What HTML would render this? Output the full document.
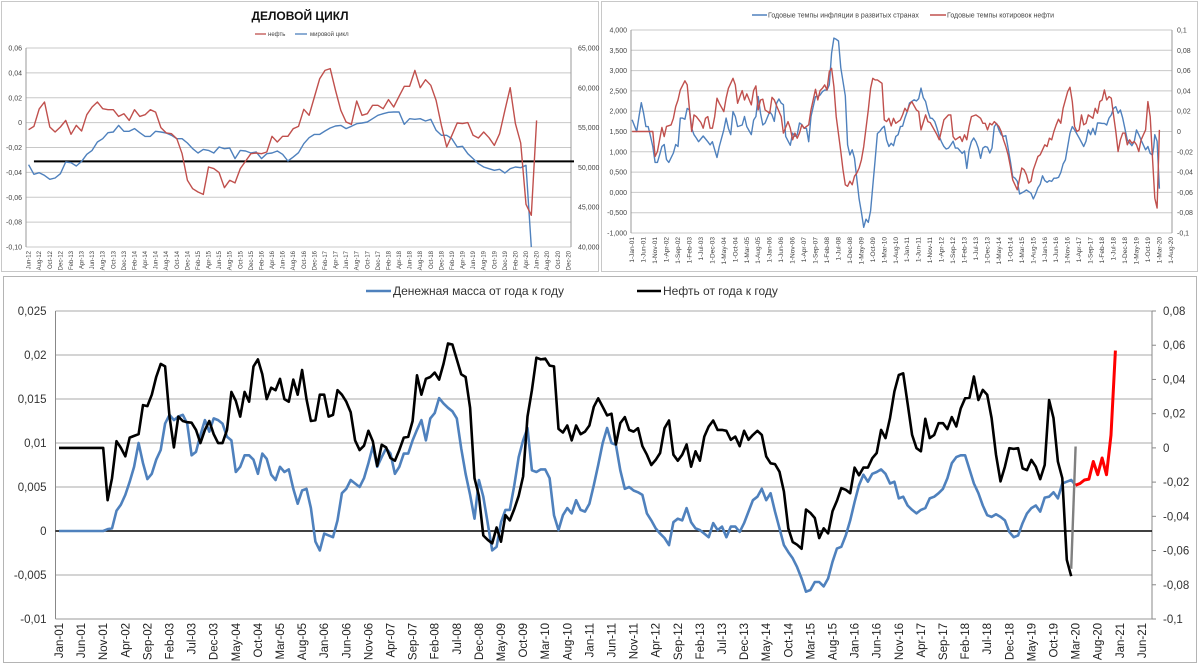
<!DOCTYPE html>
<html><head><meta charset="utf-8">
<style>
html,body{margin:0;padding:0;background:#fff;}
svg{display:block;font-family:"Liberation Sans","Noto Sans CJK SC",sans-serif;}
</style></head>
<body>
<svg id="root" width="1200" height="667" viewBox="0 0 1200 667" xmlns="http://www.w3.org/2000/svg">
<rect x="0" y="0" width="1200" height="667" fill="#fff"/>
<rect x="1.5" y="1.5" width="597" height="270" fill="none" stroke="#c8c8c8"/>
<rect x="601.5" y="1.5" width="596" height="270" fill="none" stroke="#c8c8c8"/>
<rect x="3.5" y="276.5" width="1193" height="386" fill="none" stroke="#b4b4b4"/>
<text x="300" y="20" text-anchor="middle" font-size="12" font-weight="bold" fill="#111">ДЕЛОВОЙ ЦИКЛ</text>
<g>
<line x1="255" y1="34" x2="266" y2="34" stroke="#c0504d" stroke-width="1.3"/>
<text x="268" y="36" font-size="6" fill="#444">нефть</text>
<line x1="295" y1="34" x2="307" y2="34" stroke="#4f81bd" stroke-width="1.3"/>
<text x="310" y="36" font-size="6" fill="#444">мировой цикл</text>
</g>
<g>
<line x1="752" y1="15" x2="767" y2="15" stroke="#4f81bd" stroke-width="1.5"/>
<text x="768" y="17.5" font-size="7" fill="#444">Годовые темпы инфляции в развитых странах</text>
<line x1="930" y1="15" x2="946" y2="15" stroke="#c0504d" stroke-width="1.5"/>
<text x="947" y="17.5" font-size="7" fill="#444">Годовые темпы котировок нефти</text>
</g>
<g>
<line x1="366" y1="291" x2="391" y2="291" stroke="#4f81bd" stroke-width="2.5"/>
<text x="393" y="295" font-size="12" fill="#333">Денежная  масса от года к году</text>
<line x1="637" y1="291" x2="661" y2="291" stroke="#000" stroke-width="2.5"/>
<text x="663" y="295" font-size="12" fill="#333">Нефть  от года к году</text>
</g>
<g id="c1"></g><g id="c2"></g><g id="c3"></g>
</svg>
<script>
// ---------- Chart 1 data ----------
const c1Oil = [-0.0057,-0.003,0.011,0.0166,-0.0035,-0.0075,-0.0035,0.0018,-0.0094,-0.0022,-0.0067,0.0064,0.0126,0.0166,0.0112,0.0104,0.0104,0.005,0.0072,0.0018,0.0104,0.005,0.0064,0.0104,0.0085,-0.004,-0.0083,-0.0089,-0.0129,-0.025,-0.0464,-0.0531,-0.0558,-0.0577,-0.0357,-0.037,-0.0402,-0.0523,-0.0464,-0.0485,-0.037,-0.0309,-0.025,-0.0244,-0.025,-0.0236,-0.011,-0.0156,-0.011,-0.011,-0.0049,-0.003,0.0107,0.0059,0.0206,0.0353,0.042,0.0434,0.026,0.0099,0.0005,-0.0014,0.0174,0.0059,0.0072,0.0139,0.0139,0.0112,0.0185,0.0126,0.0211,0.0292,0.0292,0.042,0.0281,0.0345,0.03,0.0179,-0.0022,-0.0196,-0.0102,-0.0003,-0.0008,0.0,-0.0102,-0.0124,-0.0075,-0.0121,-0.0183,-0.0089,0.0099,0.0281,-0.0008,-0.0164,-0.0657,-0.0745,0.0018];
const c1World = [50340,49130,49340,49000,48500,48670,49210,50680,50590,50170,50760,51640,52140,53190,53610,54360,54450,55280,54530,54530,54870,54360,53900,53900,54530,54450,54320,54030,53610,53610,53060,52350,51810,52260,52140,51810,52560,52350,52440,51100,52140,52060,51810,51930,51100,51720,51810,52060,51640,50800,51300,51850,52980,53730,54150,54150,54570,54950,55200,55280,54870,55160,55490,55580,55700,56120,56540,56750,56920,56960,56960,55410,56120,56040,56120,55830,56040,54660,54030,54030,53610,52560,52650,51720,51100,50470,50050,49840,49630,49760,49300,49840,50050,49960,50260,40000];
const c1Threshold = 50760;
const c1LeftTicks = [0.06,0.04,0.02,0,-0.02,-0.04,-0.06,-0.08,-0.1];
const c1RightTicks = [65000,60000,55000,50000,45000,40000];
const MON = ["Jan","Feb","Mar","Apr","May","Jun","Jul","Aug","Sep","Oct","Nov","Dec"];

// ---------- Chart 2 data ----------
const c2Inflation = [[0,1.79],[2,1.50],[3,1.87],[4,2.21],[5,1.95],[6,1.62],[7,1.62],[8,1.38],[9,1.13],[10,0.74],[11,0.74],[12,0.93],[13,1.13],[14,1.18],[15,0.81],[16,0.74],[18,0.97],[19,1.18],[20,1.13],[21,1.83],[22,1.83],[23,1.80],[24,2.07],[25,2.03],[26,1.58],[27,1.42],[28,1.34],[29,1.25],[31,1.39],[33,1.25],[34,1.17],[35,1.25],[36,1.05],[37,0.86],[38,1.13],[40,1.54],[41,1.83],[42,1.58],[43,1.42],[44,1.99],[45,1.87],[46,1.62],[48,1.66],[49,1.87],[50,1.62],[52,1.42],[53,1.78],[54,1.87],[55,2.36],[56,1.95],[57,1.66],[58,1.71],[60,1.99],[61,1.91],[62,1.75],[63,2.20],[64,2.30],[65,2.20],[66,2.16],[67,1.38],[69,1.16],[70,1.46],[71,1.38],[72,1.42],[73,1.71],[74,1.67],[75,1.58],[76,1.58],[77,1.25],[78,1.87],[80,2.36],[81,2.36],[82,2.40],[83,2.48],[84,2.52],[85,2.52],[86,2.65],[87,3.43],[88,3.80],[89,3.77],[90,3.73],[91,3.07],[93,2.38],[94,1.17],[95,0.92],[96,1.05],[97,0.84],[98,0.34],[99,-0.16],[100,-0.49],[101,-0.86],[102,-0.66],[103,-0.74],[104,-0.45],[105,0.16],[106,0.79],[107,1.45],[108,1.50],[109,1.58],[110,1.63],[111,1.29],[112,1.13],[113,1.21],[114,1.15],[115,1.38],[116,1.42],[117,1.62],[118,1.63],[119,1.83],[120,1.99],[121,2.20],[123,2.28],[124,2.25],[125,2.31],[126,2.57],[127,2.33],[128,2.24],[129,2.00],[130,1.83],[131,1.82],[132,1.75],[133,1.58],[134,1.38],[135,1.24],[136,1.13],[137,1.07],[138,1.09],[139,1.17],[140,1.26],[141,1.09],[142,1.09],[144,0.96],[145,1.02],[146,0.59],[147,1.04],[148,1.25],[149,1.34],[150,1.25],[151,1.09],[152,0.84],[153,1.09],[154,1.13],[155,1.11],[156,0.97],[157,1.09],[158,1.62],[159,1.70],[160,1.54],[161,1.42],[162,1.38],[163,1.40],[164,1.09],[165,0.76],[166,0.39],[167,0.35],[168,0.27],[169,-0.04],[171,0.02],[172,0.06],[173,0.02],[174,-0.02],[175,-0.16],[176,-0.04],[177,0.11],[178,0.20],[179,0.41],[180,0.29],[181,0.25],[182,0.29],[183,0.27],[184,0.35],[185,0.35],[186,0.37],[187,0.49],[188,0.70],[189,0.80],[190,1.13],[191,1.46],[192,1.62],[193,1.54],[195,1.34],[197,1.13],[198,1.26],[199,1.54],[200,1.42],[201,1.58],[202,1.42],[203,1.71],[204,1.71],[205,1.70],[206,1.70],[207,1.66],[208,1.83],[209,1.91],[210,2.07],[211,2.11],[212,1.95],[213,2.03],[214,1.83],[216,1.29],[218,1.15],[219,1.25],[220,1.54],[221,1.42],[222,1.29],[223,1.17],[224,1.05],[225,1.13],[226,0.96],[227,0.92],[227.5,1.11],[228,1.42],[229,1.26],[229.5,0.70],[230,0.09]];
const c2Oil = [[0,0],[9,0],[10,-0.0246],[11,-0.0197],[13,0.0039],[14,-0.005],[15,0.005],[17,0.0065],[18,0.013],[19,0.0245],[20,0.031],[21,0.041],[23,0.050],[24,0.046],[25,0.0213],[26,0.0],[27,0.0164],[28,0.0147],[30,0.0088],[31,0.0033],[32,0.013],[33,0.0147],[34,0.0033],[35,0.0033],[36,0.0147],[37,0.0328],[38,0.0278],[40,0.0196],[41,0.0328],[42,0.0426],[44,0.0524],[45,0.0459],[46,0.0278],[47,0.0344],[48,0.0403],[49,0.031],[50,0.037],[52,0.0262],[53,0.0403],[54,0.0449],[55,0.0213],[56,0.031],[57,0.0318],[58,0.0213],[60,0.018],[61,0.0337],[62,0.031],[63,0.0252],[65,0.0147],[66,-0.0016],[68,0.0098],[69,0.0033],[70,-0.0082],[71,-0.0016],[72,-0.0066],[73,-0.0016],[74,0.0066],[75,0.0033],[77,0.0066],[78,0.0213],[80,0.0416],[81,0.031],[82,0.0403],[83,0.0426],[84,0.0459],[85,0.041],[86,0.059],[87,0.0623],[88,0.0442],[89,0.0147],[91,-0.0197],[92,-0.0377],[93,-0.0525],[94,-0.054],[95,-0.049],[96,-0.0525],[97,-0.044],[98,-0.041],[99,-0.036],[100,-0.028],[101,-0.015],[103,0.0213],[104,0.0426],[105,0.0524],[106,0.0508],[107,0.0508],[109,0.0475],[110,0.0114],[111,0.0098],[112,0.013],[113,0.0055],[114,0.013],[115,0.0081],[117,0.0114],[118,0.0164],[119,0.0229],[120,0.0196],[121,0.0262],[122,0.0295],[124,0.0213],[125,0.0196],[126,0.0016],[128,0.0164],[129,0.0098],[130,0.0088],[131,0.0049],[133,-0.0033],[134,-0.0082],[135,0.0016],[136,0.0114],[138,0.0164],[139,0.0164],[140,-0.005],[141,-0.0082],[143,-0.005],[144,-0.0099],[145,-0.0033],[146,-0.0082],[147,0.0049],[148,0.0147],[150,0.0164],[151,0.0147],[152,0.013],[153,0.0081],[154,0.0081],[155,0.0016],[156,0.0081],[157,0.0065],[158,0.0098],[160,0.0049],[161,0],[162,-0.0082],[163,-0.0148],[164,-0.023],[165,-0.0345],[166,-0.0476],[167,-0.0525],[168,-0.0574],[170,-0.036],[171,-0.0377],[172,-0.0426],[173,-0.0508],[174,-0.049],[175,-0.0377],[176,-0.0312],[177,-0.0246],[178,-0.023],[180,-0.0131],[181,-0.0148],[182,-0.0066],[183,-0.0082],[184,0],[185,0.0066],[186,0.0121],[187,0.0081],[188,0.0229],[190,0.0393],[191,0.0436],[192,0.0295],[193,0.0049],[194,0],[195,0.0016],[196,0.0164],[197,0.0066],[198,0.0081],[199,0.0164],[200,0.0147],[201,0.013],[202,0.0229],[203,0.018],[204,0.0295],[205,0.031],[206,0.041],[207,0.031],[208,0.0344],[209,0.0328],[210,0.0164],[211,0],[212,-0.0197],[213,-0.0082],[214,-0.0016],[215,-0.0016],[216,-0.0131],[217,-0.0082],[218,-0.0115],[219,-0.0099],[220,-0.0131],[221,-0.0197],[222,-0.0082],[224,0.0016],[225,0.0295],[226,0.0147],[227,-0.0263],[228,-0.0656],[229,-0.0755],[230,0.0016]];
const c2LeftTicks = [4,3.5,3,2.5,2,1.5,1,0.5,0,-0.5,-1];
const c2RightTicks = [0.1,0.08,0.06,0.04,0.02,0,-0.02,-0.04,-0.06,-0.08,-0.1];

// ---------- Chart 3 data ----------
const c3Money = [0,0,0,0,0,0,0,0,0,0,0,
0.0002,0.0003,0.0023,0.003,0.0041,0.0056,0.0073,0.010,0.0077,0.0059,
0.0065,0.0081,0.0092,0.0122,0.0132,0.0126,0.013,0.0132,0.0122,0.0086,
0.009,0.0109,0.0126,0.0113,0.0128,0.0126,0.0122,0.0107,0.0103,0.0067,
0.0073,0.0086,0.0086,0.0081,0.0065,0.0088,0.0082,0.0064,0.0058,0.0073,
0.0067,0.007,0.0048,0.0031,0.0046,0.0048,0.0026,-0.0012,-0.0022,-0.0003,
-0.0005,-0.0007,0.0012,0.0043,0.0048,0.0058,0.0054,0.005,0.006,0.0077,
0.0096,0.0073,0.0084,0.0094,0.0088,0.0065,0.0073,0.0088,0.0088,0.0103,
0.0115,0.0126,0.0103,0.0128,0.0134,0.0151,0.0145,0.014,0.0136,0.0128,
0.0094,0.0065,0.0041,0.0014,0.0058,0.0039,0.0009,-0.0022,-0.0018,0.001,
0.0024,0.0024,0.0052,0.0084,0.0103,0.0117,0.0069,0.0067,0.007,0.007,
0.006,0.0018,0.0001,0.0018,0.0026,0.002,0.0035,0.0024,0.0022,0.0031,
0.0052,0.0075,0.01,0.0117,0.010,0.0098,0.0069,0.0048,0.005,0.0046,
0.0044,0.0041,0.002,0.0012,0.0003,-0.0003,-0.0008,-0.0016,0.001,0.0014,
0.0012,0.0026,0.001,0.0003,0.0001,-0.0003,-0.0007,0.0009,0.0001,0.0005,
-0.0007,0.0005,0.0005,-0.0001,0.0009,0.0022,0.0035,0.0039,0.0048,0.0035,
0.0043,0.0022,0.0003,-0.0016,-0.0024,-0.0031,-0.0041,-0.0054,-0.0069,-0.0067,
-0.0058,-0.0058,-0.0063,-0.0054,-0.0035,-0.002,-0.0018,-0.0005,0.0012,0.0033,
0.0052,0.0064,0.0056,0.0065,0.0067,0.007,0.0065,0.0054,0.0056,0.0037,
0.0039,0.0029,0.0024,0.002,0.0024,0.0026,0.0037,0.0039,0.0043,0.0048,
0.006,0.0077,0.0084,0.0086,0.0086,0.007,0.0054,0.0043,0.0029,0.0018,
0.0016,0.0019,0.0016,0.0012,-0.0001,-0.0007,-0.0005,0.0009,0.002,0.0026,
0.0029,0.0022,0.0038,0.0039,0.0044,0.0037,0.0054,0.0056,0.0058,0.0052];
const c3Oil = [0,0,0,0,0,0,0,0,0,0,0,
-0.0306,-0.0177,0.0039,0.0,-0.0049,0.006,0.007,0.008,0.025,0.0244,
0.0311,0.0414,0.0491,0.0476,0.0183,0.0003,0.0183,0.0157,0.015,0.0147,
0.0105,0.0028,0.0105,0.0157,0.008,0.0028,0.0028,0.0105,0.0327,0.0275,
0.0183,0.0327,0.027,0.0476,0.0517,0.043,0.0285,0.0352,0.0337,0.0404,
0.0285,0.027,0.0399,0.0311,0.0455,0.0285,0.0157,0.0162,0.0311,0.0311,
0.0183,0.0193,0.0337,0.0311,0.027,0.0208,0.0044,-0.0013,0.0013,0.01,
0.0039,-0.0105,0.0018,0.0003,-0.0059,-0.0075,-0.0013,0.006,0.0064,0.0157,
0.0424,0.0311,0.0404,0.0414,0.044,0.0399,0.0491,0.061,0.0604,0.0517,
0.043,0.0414,0.0234,-0.0177,-0.028,-0.0512,-0.0537,-0.0558,-0.0465,-0.0548,
-0.0393,-0.0424,-0.0357,-0.028,-0.0167,0.0183,0.0337,0.0527,0.0517,0.0522,
0.0481,0.0476,0.0111,0.009,0.0131,0.0044,0.0131,0.008,0.0095,0.0131,
0.024,0.029,
0.024,0.019,0.020,0.002,0.0145,0.018,0.0105,0.0095,0.0115,0.001,
-0.004,-0.010,-0.007,-0.003,0.0115,0.016,-0.004,-0.0075,-0.004,0.002,
-0.011,-0.002,-0.0075,0.0066,0.0125,0.016,0.0105,0.0105,0.010,0.0047,
0.0066,0.001,0.010,0.0047,0.0076,0.010,0.0076,-0.005,-0.009,-0.0095,
-0.014,-0.0255,-0.047,-0.055,-0.0566,-0.059,-0.036,-0.038,-0.041,-0.0527,
-0.047,-0.050,-0.037,-0.031,-0.0235,-0.0245,-0.0265,-0.0115,-0.016,-0.0115,
-0.0115,-0.006,-0.003,0.0105,0.0057,0.0174,0.033,0.0426,0.0436,0.026,
0.0076,-0.0002,-0.002,0.017,0.0057,0.0076,0.0144,0.0144,0.011,0.018,
0.0125,0.023,0.029,0.0294,0.0417,0.028,0.0339,0.031,0.0174,-0.004,
-0.0196,-0.011,-0.0002,-0.0006,-0.0002,-0.012,-0.013,-0.007,-0.011,-0.0183,
-0.010,0.028,0.0174,-0.008,-0.0177,-0.0654,-0.075];
const c3ForecastStart = 230;
const c3Forecast = [0.0052,0.0054,0.0058,0.0059,0.0079,0.0064,0.0083,0.0064,0.0109,0.0205];
const c3GreyMonths = [229,230];
const c3GreyVals = [-0.0043,0.0096];
const c3LeftTicks = [0.025,0.02,0.015,0.01,0.005,0,-0.005,-0.01];
const c3LeftLabels = ["0,025","0,02","0,015","0,01","0,005","0","-0,005","-0,01"];
const c3RightTicks = [0.08,0.06,0.04,0.02,0,-0.02,-0.04,-0.06,-0.08,-0.1];

const NS="http://www.w3.org/2000/svg";
function mk(parent,tag,attrs){const e=document.createElementNS(NS,tag);for(const k in attrs)e.setAttribute(k,attrs[k]);parent.appendChild(e);return e;}
function fmt(v,dec){return v.toFixed(dec).replace('.',',');}
function poly(g,pts,color,w){const e=mk(g,'polyline',{points:pts.map(p=>p[0].toFixed(1)+','+p[1].toFixed(1)).join(' '),fill:'none',stroke:color,'stroke-width':w,'stroke-linejoin':'round'});return e;}

// ===== Chart 1 =====
(function(){
const g=document.getElementById('c1');
const L=26,R=571,T=48,B=247,N=103;
const x=i=>L+(i+0.5)*(R-L)/N;
const yL=v=>T+(0.06-v)/0.16*(B-T);
const yR=v=>T+(65000-Math.max(v,40000))/25000*(B-T);
c1LeftTicks.forEach(t=>{
 const l=mk(g,'line',{x1:L,x2:R,y1:yL(t),y2:yL(t),stroke:'#c8c8c8','stroke-width':1});
 
 
 const tx=mk(g,'text',{x:L-4,y:yL(t)+2.5,'text-anchor':'end','font-size':7,fill:'#444'});
 tx.textContent=t===0?'0':fmt(t,2);
 
 
});
c1RightTicks.forEach(t=>{
 const tx=mk(g,'text',{x:R+7,y:yR(t)+2.5,'font-size':7,fill:'#444'});
 tx.textContent=(t/1000).toFixed(0)+',000';
 
 
});
mk(g,'line',{x1:L,x2:L,y1:T,y2:B,stroke:'#999'});
mk(g,'line',{x1:R,x2:R,y1:T,y2:B,stroke:'#999'});
for(let i=0;i<N;i+=2){
 const m=(5+i)%12, yr=12+Math.floor((5+i)/12);
 const tx=mk(g,'text',{transform:`translate(${x(i)+2},${B+4}) rotate(-90)`,'text-anchor':'end','font-size':6,fill:'#444'});
 tx.textContent=MON[m]+'-'+yr;
 
 
}
const th=mk(g,'line',{x1:x(1),x2:R+3,y1:yR(c1Threshold),y2:yR(c1Threshold),stroke:'#000','stroke-width':2});


const w=poly(g,c1World.map((v,i)=>[x(i),yR(v)]),'#4f81bd',1.4);


const o=poly(g,c1Oil.map((v,i)=>[x(i),yL(v)]),'#c0504d',1.4);


})();

// ===== Chart 2 =====
(function(){
const g=document.getElementById('c2');
const L=631,R=1172,T=30,B=233,N=236;
const x=i=>L+(i+0.5)*(R-L)/N;
const yL=v=>T+(4-v)/5*(B-T);
const yR=v=>T+(0.1-v)/0.2*(B-T);
c2LeftTicks.forEach(t=>{
 const l=mk(g,'line',{x1:L,x2:R,y1:yL(t),y2:yL(t),stroke:'#c8c8c8','stroke-width':1});
 
 
 const tx=mk(g,'text',{x:L-4,y:yL(t)+2.5,'text-anchor':'end','font-size':7,fill:'#444'});
 tx.textContent=t.toFixed(3).replace('.',',');
 
 
});
c2RightTicks.forEach(t=>{
 const tx=mk(g,'text',{x:R+5,y:yR(t)+2.5,'font-size':7,fill:'#444'});
 tx.textContent=Math.abs(t)<1e-9?'0':(Math.abs(t-0.1)<1e-9||Math.abs(t+0.1)<1e-9?fmt(t,1):fmt(t,2));
 
 
});
mk(g,'line',{x1:L,x2:L,y1:T,y2:B,stroke:'#999'});
mk(g,'line',{x1:R,x2:R,y1:T,y2:B,stroke:'#999'});
for(let i=0;i<N;i+=5){
 const m=i%12, yr=1+Math.floor(i/12);
 const tx=mk(g,'text',{transform:`translate(${x(i)+2},${B+4}) rotate(-90)`,'text-anchor':'end','font-size':6.5,fill:'#444'});
 tx.textContent='1-'+MON[m]+'-'+String(yr).padStart(2,'0');
 
 
}
const b=poly(g,c2Inflation.map(p=>[x(p[0]),yL(p[1])]),'#4f81bd',1.4);


const r=poly(g,c2Oil.map(p=>[x(p[0]),yR(p[1])]),'#c0504d',1.4);


})();

// ===== Chart 3 =====
(function(){
const g=document.getElementById('c3');
const L=55.5,R=1152,T=311,B=619;
const x=m=>59+m*4.42;
const yL=v=>T+(0.025-v)/0.035*(B-T);
const yR=v=>T+(0.08-v)/0.18*(B-T);
c3LeftTicks.forEach((t,k)=>{
 if(t!==0&&k<c3LeftTicks.length-1){
  const l=mk(g,'line',{x1:L,x2:R,y1:yL(t),y2:yL(t),stroke:'#a8a8a8','stroke-width':1});
  
  
 }
 const tx=mk(g,'text',{x:L-9,y:yL(t)+4,'text-anchor':'end','font-size':11.5,fill:'#333'});
 tx.textContent=c3LeftLabels[k];
 
 
});
c3RightTicks.forEach(t=>{
 mk(g,'line',{x1:R,x2:R+4,y1:yR(t),y2:yR(t),stroke:'#888'});
 const tx=mk(g,'text',{x:R+11,y:yR(t)+4,'font-size':11.5,fill:'#333'});
 tx.textContent=Math.abs(t)<1e-9?'0':(Math.abs(Math.abs(t)-0.1)<1e-9?fmt(t,1):fmt(t,2));
 
 
});
mk(g,'line',{x1:L,x2:L,y1:T,y2:B,stroke:'#888'});
mk(g,'line',{x1:R,x2:R,y1:T,y2:B,stroke:'#888'});
mk(g,'line',{x1:L,x2:R,y1:B,y2:B,stroke:'#999'});
const z=mk(g,'line',{x1:L,x2:R,y1:yL(0),y2:yL(0),stroke:'#000','stroke-width':1.6});


for(let m=0;m<=245;m+=5){
 const yr=1+Math.floor(m/12);
 const tx=mk(g,'text',{transform:`translate(${x(m)+4},${B+4}) rotate(-90)`,'text-anchor':'end','font-size':11.5,fill:'#222'});
 tx.textContent=MON[m%12]+'-'+String(yr).padStart(2,'0');
 
 
}
const bl=poly(g,c3Money.map((v,m)=>[x(m),yL(v)]),'#4f81bd',2.6);


const ok=poly(g,c3Oil.map((v,m)=>[x(m),yR(v)]),'#000',2.6);


const gr=poly(g,c3GreyMonths.map((m,k)=>[x(m),yL(c3GreyVals[k])]),'#808080',2.4);


const rd=poly(g,c3Forecast.map((v,k)=>[x(c3ForecastStart+k),yL(v)]),'#ff0000',3);


})();
</script>
</body></html>
